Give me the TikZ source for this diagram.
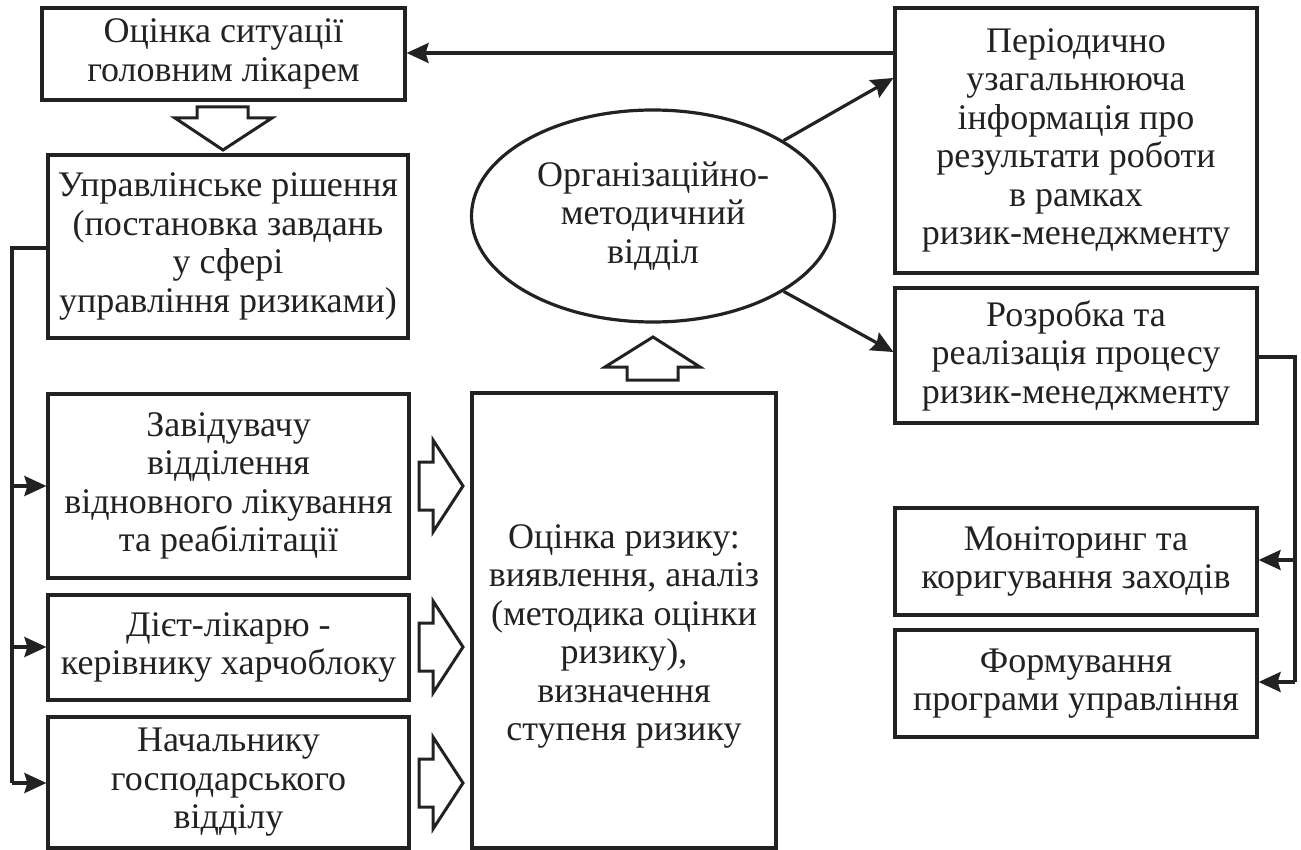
\documentclass[tikz,border=0pt]{standalone}
\usepackage{fontspec}
\setmainfont{Liberation Serif}
\usetikzlibrary{shapes.geometric,arrows.meta}
\definecolor{ink}{HTML}{222222}
\tikzset{
  txt/.style={align=center, text=ink, inner sep=0pt, font=\fontsize{36}{38.5}\selectfont},
  box/.style={txt, draw=ink, line width=3.2pt},
  oval/.style={box, ellipse},
  arr/.style={draw=ink, line width=3.2pt, -{Stealth[length=22pt,width=20pt,inset=3pt]}},
  line/.style={draw=ink, line width=3.2pt},
  blockarrow/.style={draw=ink, line width=3pt, fill=white, line join=miter}
}
\begin{document}
\begin{tikzpicture}[x=1pt,y=-1pt]
\useasboundingbox (0,0) rectangle (1301,850);
% left column
\node[box, minimum width=363pt, minimum height=92pt] (b1) at (223.5,54) {Оцінка ситуації\\головним лікарем};
\node[box, minimum width=360pt, minimum height=183pt] (b2) at (228,246.5) {Управлінське рішення\\(постановка завдань\\у сфері\\управління ризиками)};
\node[box, minimum width=361pt, minimum height=184pt] (b3) at (228.5,486) {Завідувачу\\відділення\\відновного лікування\\та реабілітації};
\node[box, minimum width=361pt, minimum height=105pt] (b4) at (228.5,647.5) {Дієт-лікарю -\\керівнику харчоблоку};
\node[box, minimum width=361pt, minimum height=131pt] (b5) at (228.5,782.5) {Начальнику\\господарського\\відділу};
% centre
\node[box, minimum width=304pt, minimum height=455pt] (big) at (624,620.5) {};
\node[txt] (bigtext) at ([yshift=-16pt]big.center) {Оцінка ризику:\\виявлення, аналіз\\(методика оцінки\\ризику),\\визначення\\ступеня ризику};
\node[oval, minimum width=363pt, minimum height=212pt] (omv) at (653,216) {Організаційно-\\методичний\\відділ};
% right column
\node[box, minimum width=362pt, minimum height=265pt] (per) at (1076,140.5) {Періодично\\узагальнююча\\інформація про\\результати роботи\\в рамках\\ризик-менеджменту};
\node[box, minimum width=362pt, minimum height=135pt] (roz) at (1076,355.5) {Розробка та\\реалізація процесу\\ризик-менеджменту};
\node[box, minimum width=362pt, minimum height=107pt] (mon) at (1076,561.5) {Моніторинг та\\коригування заходів};
\node[box, minimum width=362pt, minimum height=107pt] (form) at (1076,683.5) {Формування\\програми управління};

% connectors
\draw[arr] (per.west |- 0,53) -- (b1.east |- 0,53);
\draw[arr] (omv.30) -- (per.west |- 0,78);
\draw[arr] (omv.-30) -- (roz.west |- 0,352);

\coordinate (lt) at (12,248);
\coordinate (lb) at (12,783);
\draw[line] (b2.west |- lt) -- (lt) -- (lb);
\draw[arr] (lb) -- (b5.west |- lb);
\draw[arr] (12,486) -- (b3.west |- 0,486);
\draw[arr] (12,647) -- (b4.west |- 0,647);

\coordinate (rt) at (1295,357);
\coordinate (rb) at (1295,682);
\draw[line] (roz.east |- rt) -- (rt) -- (rb);
\draw[arr] (rb) -- (form.east |- rb);
\draw[arr] (1295,560) -- (mon.east |- 0,560);

% block arrows
\draw[blockarrow] (197,107) -- (248,107) -- (248,118) -- (272,118) -- (223,150) -- (175,118) -- (197,118) -- cycle;
\draw[blockarrow] (627,380) -- (678,380) -- (678,367) -- (700,367) -- (653,337) -- (605,367) -- (627,367) -- cycle;
\foreach \yy in {486,647,783} {
  \draw[blockarrow] (419,\yy-24) -- (433,\yy-24) -- (433,\yy-46) -- (463,\yy) -- (433,\yy+46) -- (433,\yy+24) -- (419,\yy+24) -- cycle;
}
\end{tikzpicture}
\end{document}
